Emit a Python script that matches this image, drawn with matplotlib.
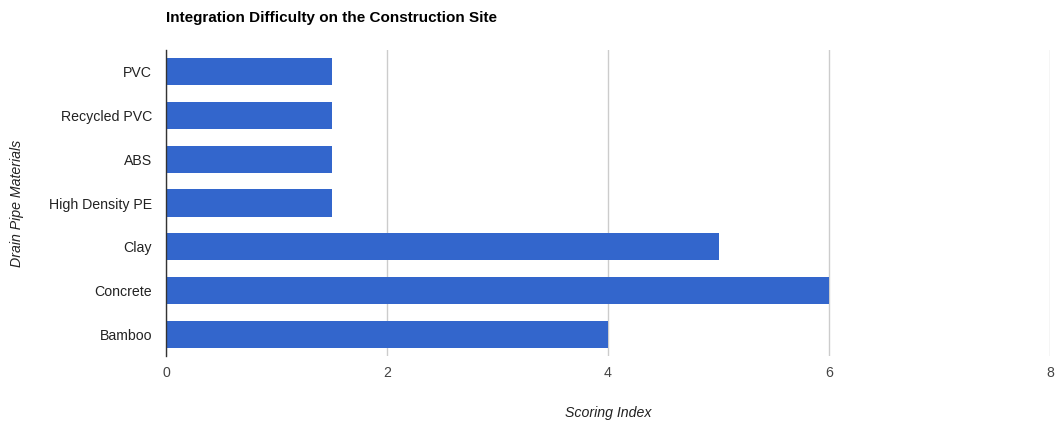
import matplotlib
matplotlib.use("Agg")
import matplotlib.pyplot as plt

# Integration difficulty scores per drain pipe material
materials = ["PVC", "Recycled PVC", "ABS", "High Density PE", "Clay", "Concrete", "Bamboo"]
scores = [1.5, 1.5, 1.5, 1.5, 5, 6, 4]
x_ticks = [0, 2, 4, 6, 8]

plt.rcParams["font.family"] = ["Liberation Sans", "DejaVu Sans"]

fig = plt.figure(figsize=(10.57, 4.22), dpi=100)
ax = fig.add_axes([166 / 1057, 66 / 422, 884 / 1057, 306 / 422])

ypos = list(range(len(materials)))
ax.barh(ypos, scores, height=0.62, color="#3366cc", zorder=3)
ax.set_ylim(len(materials) - 0.5, -0.5)
ax.set_xlim(0, 8)

ax.set_yticks(ypos)
ax.set_yticklabels(materials, fontsize=10.2, color="#222222")
ax.set_xticks(x_ticks)
ax.set_xticklabels([str(t) for t in x_ticks], fontsize=10.2, color="#444444")
ax.tick_params(axis="both", length=0)
ax.tick_params(axis="y", pad=10)
ax.tick_params(axis="x", pad=7)

ax.grid(axis="x", color="#cccccc", linewidth=1, zorder=0)
for side in ["top", "right", "bottom"]:
    ax.spines[side].set_visible(False)
ax.spines["left"].set_color("#333333")
ax.spines["left"].set_linewidth(1)
ax.spines["left"].set_zorder(4)

# axis titles placed in figure pixels
fig.text(608 / 1057, 1 - 413 / 422, "Scoring Index", fontsize=10.2, style="italic",
         color="#222222", ha="center", va="center")
fig.text(17 / 1057, 1 - 203 / 422, "Drain Pipe Materials", fontsize=10.2, style="italic",
         color="#222222", ha="center", va="center", rotation=90)

fig.text(166 / 1057, 1 - 18 / 422, "Integration Difficulty on the Construction Site",
         fontsize=11, fontweight="bold", color="#000000", va="center", ha="left")

fig.savefig("out.png", dpi=100)
